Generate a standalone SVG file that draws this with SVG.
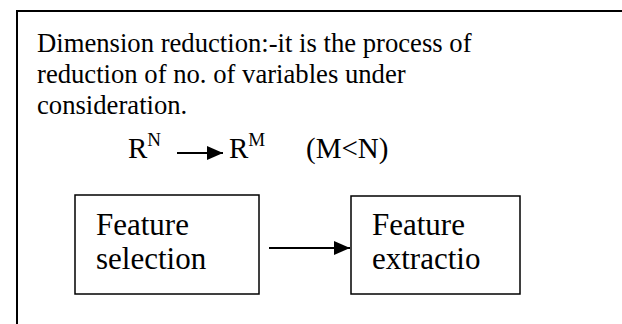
<svg xmlns="http://www.w3.org/2000/svg" width="622" height="324" viewBox="0 0 622 324">
<defs>
<style>
text{font-family:"Liberation Serif","Times New Roman",serif;fill:#000;font-size:26.67px}
.big{font-size:29px}
.sup{font-size:19px}
.bt{font-size:31px}
.box{fill:#fff;stroke:#000;stroke-width:1.5}
.ln{stroke:#000;stroke-width:2;fill:none}
</style>
<marker id="ah" markerWidth="16" markerHeight="14" refX="16" refY="7" orient="auto" markerUnits="userSpaceOnUse" viewBox="0 0 16 14"><path d="M0,0L16,7L0,14Z" fill="#000"/></marker>
</defs>
<rect x="0" y="0" width="622" height="324" fill="#fff"/>
<path d="M17,324V11H622" class="ln" stroke-width="1.5"/>
<g id="intro">
<text x="37" y="52">Dimension reduction:-it is the process of</text>
<text x="37" y="83">reduction of no. of variables under</text>
<text x="37" y="114">consideration.</text>
<text class="big" x="128" y="158">R<tspan class="sup" dy="-12">N</tspan></text>
<text class="big" x="229" y="158">R<tspan class="sup" dy="-12">M</tspan></text>
<text class="big" x="306" y="158">(M&lt;N)</text>
</g>
<g id="feature-selection">
<rect class="box" x="75" y="195" width="184" height="99"/>
<text class="bt" x="96" y="235">Feature</text>
<text class="bt" x="96" y="269">selection</text>
</g>
<g id="feature-extraction">
<rect class="box" x="351" y="196" width="169" height="98"/>
<text class="bt" x="372" y="235">Feature</text>
<text class="bt" x="372" y="269">extractio</text>
</g>
<g id="connectors">
<line x1="177" y1="153" x2="223" y2="153" class="ln" marker-end="url(#ah)"/>
<line x1="269" y1="248" x2="350" y2="248" class="ln" marker-end="url(#ah)"/>
</g>
</svg>
